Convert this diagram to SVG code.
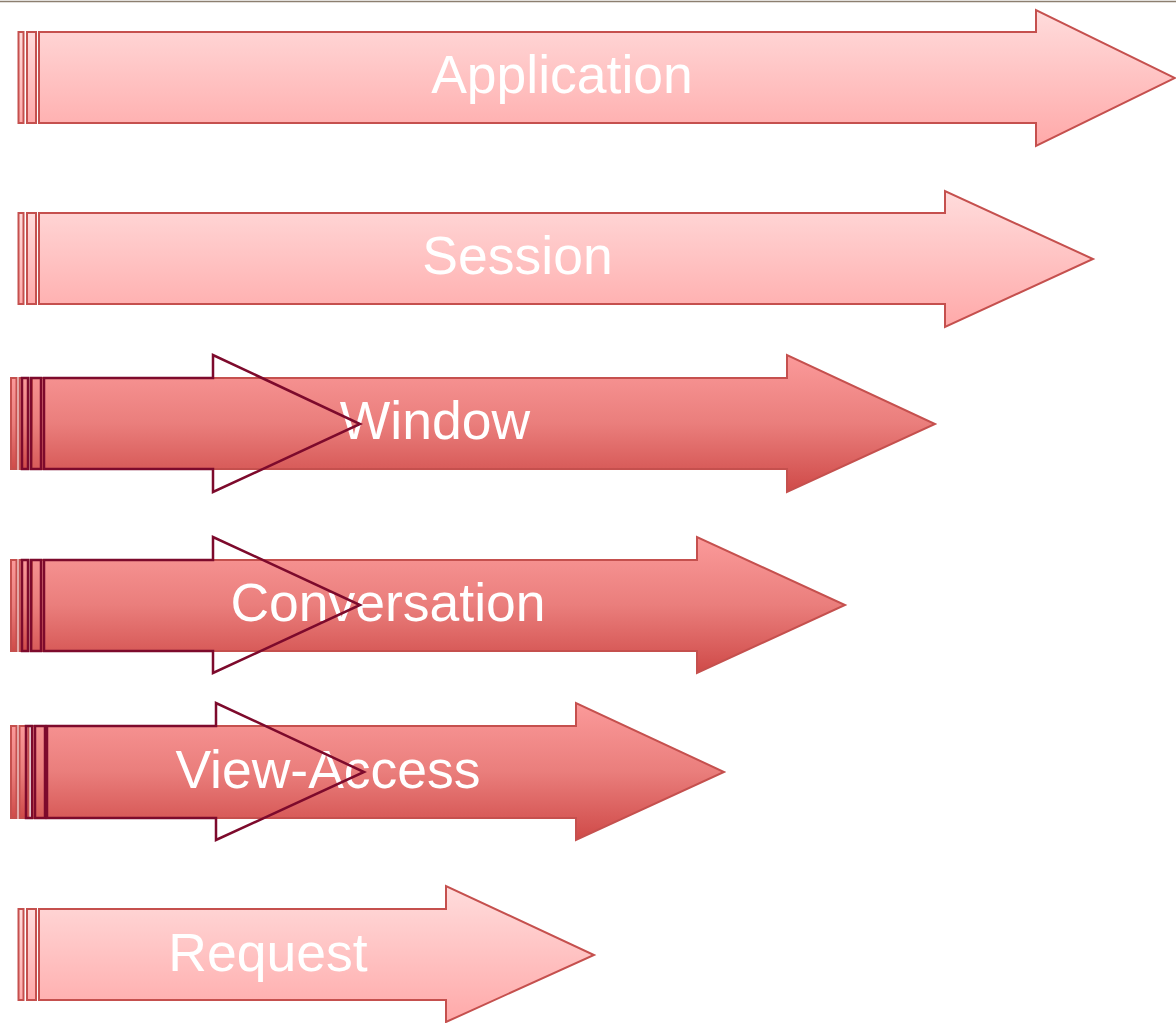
<svg xmlns="http://www.w3.org/2000/svg" width="1176" height="1023" viewBox="0 0 1176 1023">
<defs>
<linearGradient id="gLight" x1="0" y1="0" x2="0" y2="1">
<stop offset="0" stop-color="#ffdcdc"/>
<stop offset="1" stop-color="#ffa9a9"/>
</linearGradient>
<linearGradient id="gDark" x1="0" y1="0" x2="0" y2="1">
<stop offset="0" stop-color="#fb9a9a"/>
<stop offset="0.5" stop-color="#ea7e7c"/>
<stop offset="1" stop-color="#cf4a48"/>
</linearGradient>
<style>
.light{fill:url(#gLight);stroke:#c5504e;stroke-width:2}
.dark{fill:url(#gDark);stroke:#c5504e;stroke-width:2}
.outline{fill:none;stroke:#7d0a2c;stroke-width:2.5}
.lbl{font-family:"Liberation Sans",Arial,sans-serif;font-size:53.5px;fill:#ffffff;text-anchor:middle}
</style>
</defs>
<rect x="0" y="0" width="1176" height="1023" fill="#ffffff"/>
<line x1="0" y1="1.5" x2="1176" y2="1.5" stroke="#8c7f70" stroke-width="1.5"/>

<g id="application">
<rect class="light" x="18.5" y="32" width="5" height="91"/>
<rect class="light" x="27" y="32" width="9" height="91"/>
<polygon class="light" points="39,32 1036,32 1036,10 1175,78 1036,146 1036,123 39,123"/>
<text class="lbl" x="562" y="93">Application</text>
</g>

<g id="session">
<rect class="light" x="18.5" y="213" width="5" height="91"/>
<rect class="light" x="27" y="213" width="9" height="91"/>
<polygon class="light" points="39,213 945,213 945,191 1093,259 945,327 945,304 39,304"/>
<text class="lbl" x="517.5" y="274">Session</text>
</g>

<g id="window">
<rect class="dark" x="11" y="378" width="5.5" height="91"/>
<rect class="dark" x="19.5" y="378" width="9" height="91"/>
<polygon class="dark" points="32,378 787,378 787,355 935,424 787,492 787,469 32,469"/>
<text class="lbl" x="435" y="439">Window</text>
<rect class="outline" x="22" y="378" width="6" height="91"/>
<rect class="outline" x="31" y="378" width="10" height="91"/>
<polygon class="outline" points="44,378 213,378 213,355 360,424 213,492 213,469 44,469"/>
</g>

<g id="conversation">
<rect class="dark" x="11" y="560" width="5.5" height="91"/>
<rect class="dark" x="19.5" y="560" width="9" height="91"/>
<polygon class="dark" points="32,560 697,560 697,537 845,605 697,673 697,651 32,651"/>
<text class="lbl" x="388" y="621">Conversation</text>
<rect class="outline" x="22" y="560" width="6" height="91"/>
<rect class="outline" x="31" y="560" width="10" height="91"/>
<polygon class="outline" points="44,560 213,560 213,537 360,605 213,673 213,651 44,651"/>
</g>

<g id="view-access">
<rect class="dark" x="11" y="726" width="5.5" height="92"/>
<rect class="dark" x="19.5" y="726" width="9" height="92"/>
<polygon class="dark" points="32,726 576,726 576,703 724,772 576,840 576,818 32,818"/>
<text class="lbl" x="328" y="788">View-Access</text>
<rect class="outline" x="26" y="726" width="6" height="92"/>
<rect class="outline" x="35" y="726" width="10" height="92"/>
<polygon class="outline" points="47,726 216,726 216,703 364,772 216,840 216,818 47,818"/>
</g>

<g id="request">
<rect class="light" x="18.5" y="909" width="5" height="91"/>
<rect class="light" x="27" y="909" width="9" height="91"/>
<polygon class="light" points="39,909 446,909 446,886 594,955 446,1022 446,1000 39,1000"/>
<text class="lbl" x="268" y="971">Request</text>
</g>

<g id="connectors"></g>
</svg>
